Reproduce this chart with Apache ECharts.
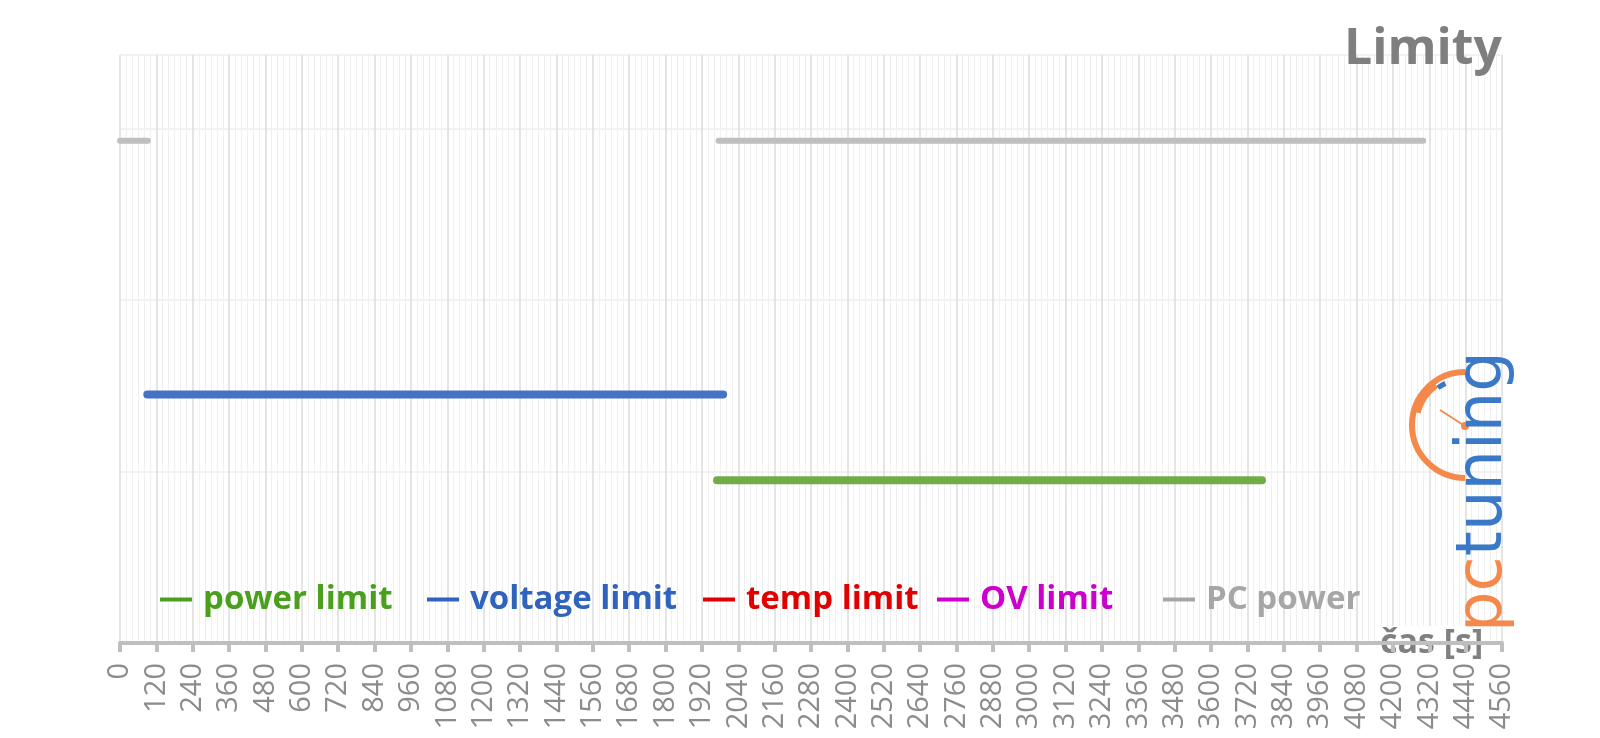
<!DOCTYPE html>
<html>
<head>
<meta charset="utf-8">
<script src="https://cdn.jsdelivr.net/npm/echarts@6/dist/echarts.min.js"></script>
<style>
  html, body { margin: 0; padding: 0; background: #ffffff; }
  #chart { width: 1600px; height: 738px; }
</style>
</head>
<body>
<div id="chart"></div>
<script>
// ---- data ----
const seriesNames = ['power limit', 'voltage limit', 'temp limit', 'OV limit', 'PC power'];
const powerLimit   = [[1970, 0.95], [3768, 0.95]];
const voltageLimit = [[90, 1.45], [1990, 1.45]];
const tempLimit    = [];
const ovLimit      = [];
const pcPower      = [[0, 2.93], [92, 2.93], [1000, null], [1975, 2.93], [4300, 2.93]];
const xMin = 0, xMax = 4560, xStep = 120;
const yMin = 0, yMax = 3.43, yStep = 1;
const titleText = 'Limity';
const xAxisName = 'čas [s]';

const lineColors   = ['#70ad47', '#4472c4', '#e00000', '#cc00cc', '#bfbfbf'];
const legendColors = ['#4aa01c', '#2f63be', '#e00000', '#cc00cc', '#a6a6a6'];
const lineWidths   = [8, 8, 6, 6, 6];
const legendLefts  = [155, 422, 698, 932, 1158];

const chart = echarts.init(document.getElementById('chart'), null, { renderer: 'canvas' });

const dataList = [powerLimit, voltageLimit, tempLimit, ovLimit, pcPower];
const series = seriesNames.map((name, i) => ({
  name: name,
  type: 'line',
  data: dataList[i],
  showSymbol: false,
  symbol: 'none',
  connectNulls: false,
  animation: false,
  z: i === 4 ? 3 : 4,
  lineStyle: { color: lineColors[i], width: lineWidths[i], cap: 'round', join: 'round' },
  itemStyle: { color: lineColors[i] }
}));

const legends = seriesNames.map((name, i) => ({
  show: true,
  left: legendLefts[i],
  top: 578,
  orient: 'horizontal',
  icon: 'rect',
  itemWidth: 32,
  itemHeight: 4,
  selectedMode: false,
  data: [{ name: name, itemStyle: { color: legendColors[i] } }],
  textStyle: {
    color: legendColors[i],
    fontFamily: 'Open Sans',
    fontWeight: 'bold',
    fontSize: 33,
    padding: [0, 0, 0, 6]
  }
}));

const option = {
  backgroundColor: '#ffffff',
  animation: false,
  title: {
    text: titleText,
    right: 93,
    top: 20,
    textStyle: { color: '#7f7f7f', fontFamily: 'Open Sans', fontWeight: 'bold', fontSize: 50 }
  },
  legend: legends,
  grid: { left: 120, right: 98, top: 55, bottom: 95, containLabel: false },
  xAxis: {
    type: 'value',
    min: xMin, max: xMax, interval: xStep,
    name: xAxisName,
    nameLocation: 'end',
    nameGap: -124,
    nameTextStyle: {
      color: '#808080', fontFamily: 'Open Sans', fontWeight: 'bold', fontSize: 34,
      backgroundColor: '#ffffff', padding: [0, 2, 0, 2], verticalAlign: 'middle'
    },
    axisLine: { show: true, onZero: false, lineStyle: { color: '#bfbfbf', width: 4 } },
    axisTick: { show: true, length: 9, lineStyle: { color: '#bfbfbf', width: 4 } },
    axisLabel: {
      rotate: 90, margin: 20, color: '#8c8c8c',
      fontFamily: 'Open Sans', fontSize: 29, fontWeight: 'normal',
      formatter: function (v) { return String(v); }
    },
    splitLine: { show: true, lineStyle: { color: '#dcdcdc', width: 1.5 } },
    minorTick: { show: false, splitNumber: 6 },
    minorSplitLine: { show: true, lineStyle: { color: '#f0f0f0', width: 1 } }
  },
  yAxis: {
    type: 'value',
    min: yMin, max: yMax, interval: yStep,
    axisLine: { show: false },
    axisTick: { show: false },
    axisLabel: { show: false },
    splitLine: { show: true, lineStyle: { color: '#eeeeee', width: 1.5 } }
  },
  series: series,
  graphic: [
    { type: 'arc', z: 10, silent: true,
      shape: { cx: 1465, cy: 425, r: 53, startAngle: Math.PI / 2, endAngle: Math.PI * 1.5, clockwise: true },
      style: { stroke: '#f4894b', lineWidth: 6, fill: null } },
    { type: 'arc', z: 10, silent: true,
      shape: { cx: 1465, cy: 425, r: 49, startAngle: Math.PI * 1.08, endAngle: Math.PI * 1.3, clockwise: true },
      style: { stroke: '#f4894b', lineWidth: 6, fill: null } },
    { type: 'arc', z: 11, silent: true,
      shape: { cx: 1465, cy: 425, r: 46, startAngle: Math.PI * 1.3, endAngle: Math.PI * 1.36, clockwise: true },
      style: { stroke: '#3a78c8', lineWidth: 5, fill: null } },
    { type: 'line', z: 10, silent: true,
      shape: { x1: 1440, y1: 410, x2: 1465, y2: 426 },
      style: { stroke: '#f4894b', lineWidth: 2 } },
    { type: 'circle', z: 10, silent: true,
      shape: { cx: 1465, cy: 426, r: 4 },
      style: { fill: '#f4894b' } },
    { type: 'text', z: 12, silent: true,
      x: 1484, y: 632, rotation: Math.PI / 2,
      style: {
        text: '{a|pc}{b|tuning}',
        align: 'left', verticalAlign: 'middle',
        rich: {
          a: { fill: '#f4894b', fontSize: 64, fontWeight: 'normal', fontFamily: 'DejaVu Sans' },
          b: { fill: '#3a78c8', fontSize: 64, fontWeight: 'normal', fontFamily: 'DejaVu Sans' }
        }
      } }
  ]
};

chart.setOption(option);
</script>
</body>
</html>
